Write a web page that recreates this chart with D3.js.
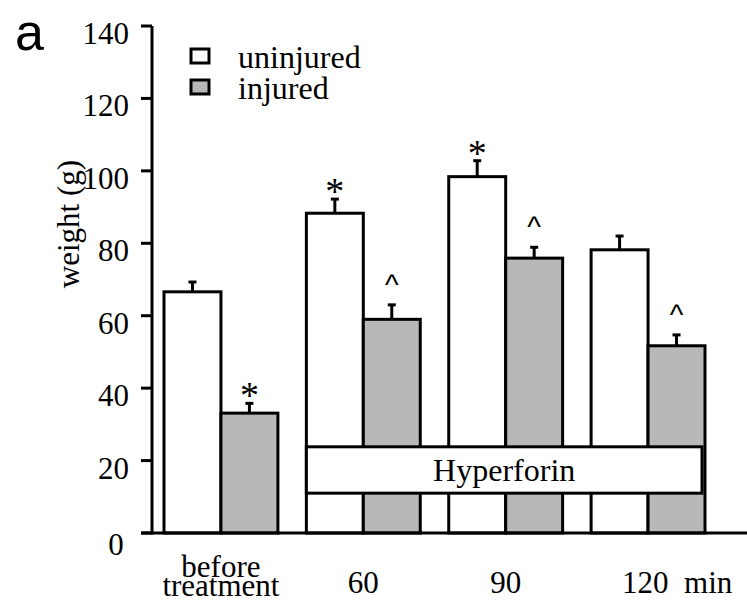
<!DOCTYPE html>
<html><head><meta charset="utf-8">
<script src="https://cdn.jsdelivr.net/npm/d3@7/dist/d3.min.js"></script>
<style>body{margin:0;background:#fff}svg{display:block}text{font-family:"Liberation Serif","Times New Roman",serif;fill:#000}</style>
</head><body><svg id="c" width="747" height="603"></svg>
<script>
const groups = ["before", "60", "90", "120"];
const groupLabels = [["before", "treatment"], ["60"], ["90"], ["120  min"]];
const series = ["uninjured", "injured"];
const uninjured = [66.6, 88.3, 98.4, 78.2];
const uninjuredErr = [2.7, 3.9, 4.4, 3.8];
const injured = [33.1, 59.0, 75.9, 51.7];
const injuredErr = [2.7, 4.0, 3.0, 3.0];
const uninjuredMark = ["", "*", "*", ""];
const injuredMark = ["*", "^", "^", "^"];
const yTicks = [0, 20, 40, 60, 80, 100, 120, 140];
const boxLabel = "Hyperforin";
const boxRange = [11, 23.8];
const boxGroups = ["60", "120"];

const svg = d3.select("#c");
const y = d3.scaleLinear().domain([0, 140]).range([533, 26]);
const x0 = d3.scaleBand().domain(groups).range([164, 705]).paddingInner(0.2).paddingOuter(0);
const x1 = d3.scaleBand().domain(series).range([0, x0.bandwidth()]);
const fills = {uninjured: "#ffffff", injured: "#b8b8b8"};

const data = [];
groups.forEach((g, i) => {
  data.push({g, s: "uninjured", v: uninjured[i], e: uninjuredErr[i], m: uninjuredMark[i]});
  data.push({g, s: "injured", v: injured[i], e: injuredErr[i], m: injuredMark[i]});
});

// error bars
const eb = svg.append("g").attr("stroke", "#000").attr("stroke-width", 3);
data.forEach(d => {
  const cx = x0(d.g) + x1(d.s) + x1.bandwidth() / 2;
  eb.append("line").attr("x1", cx).attr("x2", cx).attr("y1", y(d.v)).attr("y2", y(d.v + d.e));
  eb.append("line").attr("x1", cx - 4).attr("x2", cx + 4).attr("y1", y(d.v + d.e)).attr("y2", y(d.v + d.e));
});

// bars
svg.append("g").selectAll("rect").data(data).join("rect")
  .attr("x", d => x0(d.g) + x1(d.s))
  .attr("y", d => y(d.v))
  .attr("width", x1.bandwidth())
  .attr("height", d => y(0) - y(d.v))
  .attr("fill", d => fills[d.s])
  .attr("stroke", "#000").attr("stroke-width", 3);

// markers
svg.append("g").selectAll("text").data(data.filter(d => d.m)).join("text")
  .attr("x", d => x0(d.g) + x1(d.s) + x1.bandwidth() / 2)
  .attr("y", d => y(d.v + d.e) - (d.m === "*" ? -5 : 10))
  .attr("text-anchor", "middle")
  .style("font-family", d => d.m === "*" ? "Liberation Serif" : "Liberation Sans")
  .attr("font-size", d => d.m === "*" ? 38 : 29)
  .text(d => d.m);

// Hyperforin box
const bx0 = x0(boxGroups[0]), bx1 = x0(boxGroups[1]) + x0.bandwidth() - 3;
svg.append("rect").attr("x", bx0).attr("y", y(boxRange[1]))
  .attr("width", bx1 - bx0).attr("height", y(boxRange[0]) - y(boxRange[1]))
  .attr("fill", "#fff").attr("stroke", "#000").attr("stroke-width", 3);
svg.append("text").attr("x", (bx0 + bx1) / 2).attr("y", (y(boxRange[0]) + y(boxRange[1])) / 2 + 11)
  .attr("text-anchor", "middle").attr("font-size", 32).text(boxLabel);

// axes
const ax = svg.append("g").attr("stroke", "#000").attr("stroke-width", 3);
ax.append("line").attr("x1", 152).attr("x2", 152).attr("y1", y(140)).attr("y2", y(0) + 1.5);
ax.append("line").attr("x1", 141).attr("x2", 747).attr("y1", y(0)).attr("y2", y(0));
yTicks.forEach(t => {
  ax.append("line").attr("x1", 141).attr("x2", 152).attr("y1", y(t)).attr("y2", y(t));
});
svg.append("g").selectAll("text").data(yTicks).join("text")
  .attr("x", d => d === 0 ? 116 : 129)
  .attr("y", d => y(d) + (d === 0 ? 22 : 18))
  .attr("text-anchor", d => d === 0 ? "middle" : "end")
  .attr("font-size", 31).text(d => d);

// y title
svg.append("text").attr("transform", "translate(79,224) rotate(-90)")
  .attr("text-anchor", "middle").attr("font-size", 31).text("weight (g)");

// x labels
groups.forEach((g, i) => {
  const cx = x0(g) + x0.bandwidth() / 2;
  const lines = groupLabels[i];
  if (lines.length === 2) {
    lines.forEach((l, j) => svg.append("text").attr("x", cx).attr("y", 577 + j * 19)
      .attr("text-anchor", "middle").attr("font-size", 31).text(l));
  } else if (i === groups.length - 1) {
    svg.append("text").attr("x", cx - 26).attr("y", 593).attr("font-size", 31)
      .attr("xml:space", "preserve").style("white-space", "pre").text(lines[0]);
  } else {
    svg.append("text").attr("x", cx).attr("y", 593).attr("text-anchor", "middle")
      .attr("font-size", 31).text(lines[0]);
  }
});

// legend
series.forEach((s, i) => {
  svg.append("rect").attr("x", 191).attr("y", 49 + i * 31).attr("width", 18).attr("height", 14)
    .attr("fill", fills[s]).attr("stroke", "#000").attr("stroke-width", 3);
  svg.append("text").attr("x", 238).attr("y", 68 + i * 31).attr("font-size", 32).text(s);
});

// panel letter
svg.append("text").attr("x", 15).attr("y", 50).attr("font-size", 52)
  .style("font-family", "Liberation Sans").text("a");
</script></body></html>
